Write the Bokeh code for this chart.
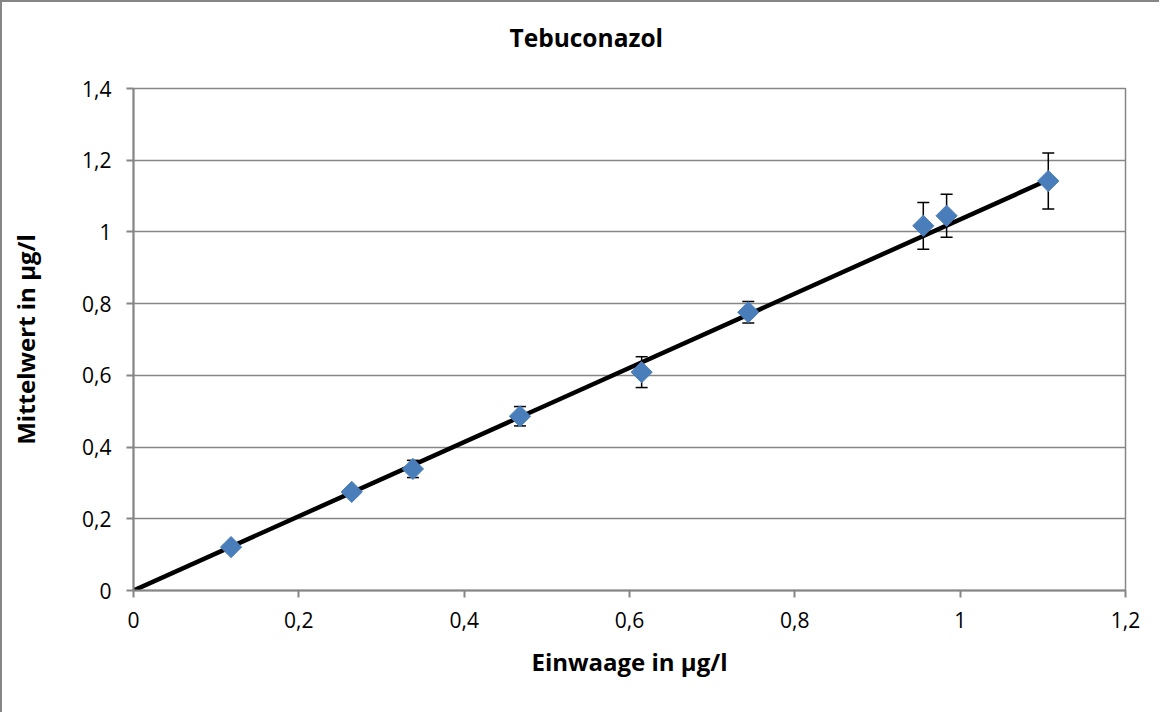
from bokeh.plotting import figure
from bokeh.models import ColumnDataSource, Whisker, TeeHead, FixedTicker, Range1d, Title
from bokeh.embed import file_html
from bokeh.resources import INLINE
import numpy as np

# ---- data ----
einwaage = [0.118, 0.264, 0.338, 0.4675, 0.6147, 0.7437, 0.9554, 0.9836, 1.1066]
mittelwert = [0.121, 0.275, 0.339, 0.486, 0.609, 0.776, 1.017, 1.045, 1.142]
fehler = [0.008, 0.008, 0.024, 0.027, 0.043, 0.030, 0.065, 0.060, 0.078]
trend_slope = 1.035

x_ticks = [0, 0.2, 0.4, 0.6, 0.8, 1.0, 1.2]
x_labels = ["0", "0,2", "0,4", "0,6", "0,8", "1", "1,2"]
y_ticks = [0, 0.2, 0.4, 0.6, 0.8, 1.0, 1.2, 1.4]
y_labels = ["0", "0,2", "0,4", "0,6", "0,8", "1", "1,2", "1,4"]

title_text = "Tebuconazol"
x_title = "Einwaage in µg/l"
y_title = "Mittelwert in µg/l"

FONT = "Open Sans"
GRAY = "#868686"
BLUE = "#4A7EBB"

p = figure(width=1159, height=712, output_backend="svg", toolbar_location=None,
           x_range=Range1d(0, 1.2), y_range=Range1d(0, 1.4),
           min_border_left=133, min_border_right=34, min_border_top=88, min_border_bottom=122)
p.border_fill_color = None
p.background_fill_color = "white"
p.styles = {"box-shadow": "inset 2px 2px 0 0 #868686"}

p.outline_line_color = GRAY
p.outline_line_width = 1.5

# title (outermost panel) with an empty spacer panel between it and the frame
p.title.text = title_text
p.title.text_font = FONT
p.title.text_font_style = "bold"
p.title.text_font_size = "24.5px"
p.title.text_color = "black"
p.title.align = "left"
p.title.offset = 376
p.title.standoff = 0
spacer = Title(text=" ", text_font_size="1px", standoff=32)
p.add_layout(spacer, "above")

# axes
for ax in (p.xaxis[0], p.yaxis[0]):
    ax.axis_line_color = GRAY
    ax.axis_line_width = 2
    ax.major_tick_line_color = GRAY
    ax.major_tick_line_width = 2
    ax.major_tick_out = 7
    ax.major_tick_in = 0
    ax.minor_tick_line_color = None
    ax.major_label_text_font = FONT
    ax.major_label_text_font_size = "21px"
    ax.major_label_text_color = "black"
    ax.axis_label_text_font = FONT
    ax.axis_label_text_font_style = "bold"
    ax.axis_label_text_font_size = "24px"
    ax.axis_label_text_color = "black"

p.xaxis.ticker = FixedTicker(ticks=x_ticks)
p.yaxis.ticker = FixedTicker(ticks=y_ticks)
p.xaxis.major_label_overrides = dict(zip(x_ticks, x_labels))
p.yaxis.major_label_overrides = dict(zip(y_ticks, y_labels))
p.xaxis.axis_label = x_title
p.yaxis.axis_label = y_title
p.xaxis.major_label_standoff = 14
p.yaxis.major_label_standoff = 15
p.xaxis.axis_label_standoff = 14
p.yaxis.axis_label_standoff = 37

p.xgrid.grid_line_color = None
p.ygrid.ticker = FixedTicker(ticks=y_ticks)
p.ygrid.grid_line_color = GRAY
p.ygrid.grid_line_width = 1.5

# error bars
src = ColumnDataSource(dict(
    x=einwaage, y=mittelwert,
    upper=[m + f for m, f in zip(mittelwert, fehler)],
    lower=[m - f for m, f in zip(mittelwert, fehler)],
))
w = Whisker(source=src, base="x", upper="upper", lower="lower", dimension="height",
            line_color="black", line_width=1.5, level="underlay",
            upper_head=TeeHead(size=12, line_color="black", line_width=1.5),
            lower_head=TeeHead(size=12, line_color="black", line_width=1.5))
p.add_layout(w)

# trend line through origin
tx = [0, max(einwaage)]
ty = [trend_slope * v for v in tx]
p.line(tx, ty, line_color="black", line_width=4.5)

# markers (diamonds)
p.scatter("x", "y", source=src, marker="square", angle=np.pi / 4, size=15,
          fill_color=BLUE, line_color=BLUE)

open("out.html", "w").write(file_html(p, INLINE))
